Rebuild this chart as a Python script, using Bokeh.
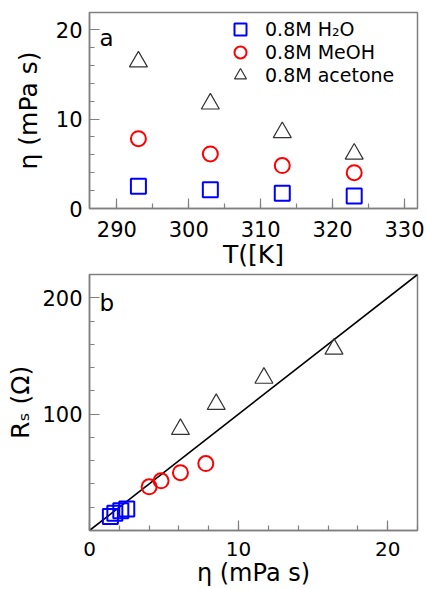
import math
from bokeh.plotting import figure
from bokeh.models import Range1d, SingleIntervalTicker, Label, Legend, LegendItem
from bokeh.layouts import column
from bokeh.embed import file_html
from bokeh.resources import INLINE

# ---- data ----
temperature_K = [293, 303, 313, 323]
eta_h2o = [2.5, 2.1, 1.7, 1.4]          # mPa s
eta_meoh = [7.8, 6.1, 4.8, 4.0]
eta_acetone = [16.4, 11.7, 8.5, 6.1]

rs_h2o = [18.4, 17.0, 14.8, 12.0]       # Ohm, vs eta of same series
rs_meoh = [57.5, 49.7, 42.7, 37.5]
rs_acetone = [156.0, 131.0, 108.5, 87.0]

fit_eta = [0, 22]
fit_rs = [0, 220]

legend_labels = ["0.8M H\u2082O", "0.8M MeOH", "0.8M acetone"]

FONT = "DejaVu Sans"
GREY = "#808080"
BLUE = "#0000FF"
RED = "#FF0000"
TRI = "#333333"


def style(p, xint, xminor, yint, yminor):
    p.outline_line_color = GREY
    p.outline_line_width = 1.5
    p.xgrid.visible = False
    p.ygrid.visible = False
    p.background_fill_color = "white"
    p.border_fill_color = "white"
    p.xaxis[0].ticker = SingleIntervalTicker(interval=xint, num_minor_ticks=xminor)
    p.yaxis[0].ticker = SingleIntervalTicker(interval=yint, num_minor_ticks=yminor)
    for ax in (p.xaxis[0], p.yaxis[0]):
        ax.axis_line_color = GREY
        ax.axis_line_width = 1.5
        ax.major_tick_line_color = GREY
        ax.minor_tick_line_color = GREY
        ax.major_tick_line_width = 1.2
        ax.minor_tick_line_width = 1.2
        ax.major_tick_in = 10
        ax.major_tick_out = 0
        ax.minor_tick_in = 5
        ax.minor_tick_out = 0
        ax.major_label_text_font = FONT
        ax.major_label_text_font_size = "21px"
        ax.major_label_text_color = "black"
        ax.axis_label_text_font = FONT
        ax.axis_label_text_font_size = "25px"
        ax.axis_label_text_font_style = "normal"
        ax.axis_label_text_color = "black"
        ax.axis_label_standoff = 0
    p.xaxis[0].major_label_standoff = 12
    p.yaxis[0].major_label_standoff = 7


def panel_letter(p, text, y):
    p.add_layout(Label(x=10, y=y, x_units="screen", y_units="screen", text=text,
                       text_font=FONT, text_font_size="23px", text_color="black",
                       text_align="left", text_baseline="alphabetic"))


# ---------------- panel a ----------------
pa = figure(width=427, height=271, output_backend="svg", toolbar_location=None,
            x_range=Range1d(286.2, 331.8), y_range=Range1d(0, 21.9),
            min_border_left=89, min_border_right=10, min_border_top=12,
            min_border_bottom=63)
style(pa, 10, 2, 10, 5)
pa.xaxis[0].axis_label = "T([K]"
pa.yaxis[0].axis_label = "\u03b7 (mPa s)"
pa.yaxis[0].axis_label_standoff = 10

ra1 = pa.scatter(temperature_K, eta_h2o, marker="square", size=15, fill_color=None,
                 line_color=BLUE, line_width=2)
ra2 = pa.scatter(temperature_K, eta_meoh, marker="circle", size=15, fill_color=None,
                 line_color=RED, line_width=2)
ra3 = pa.scatter(temperature_K, eta_acetone, marker="triangle", size=18, fill_color=None,
                 line_color=TRI, line_width=1.2)

for rend, text, ybot in zip([ra1, ra2, ra3], legend_labels, [164, 141, 118]):
    lg = Legend(items=[LegendItem(label=text, renderers=[rend])],
                location=(136, ybot), glyph_width=30, glyph_height=30, spacing=0,
                padding=0, margin=0, label_standoff=10, label_height=20,
                border_line_color=None, background_fill_alpha=0,
                label_text_font=FONT, label_text_font_size="19px",
                label_text_color="black")
    pa.add_layout(lg)

panel_letter(pa, "a", 171)

# ---------------- panel b ----------------
pb = figure(width=427, height=318, output_backend="svg", toolbar_location=None,
            x_range=Range1d(0, 22), y_range=Range1d(0, 220),
            min_border_left=89, min_border_right=10, min_border_top=3,
            min_border_bottom=53)
style(pb, 10, 5, 100, 5)
pb.yaxis[0].major_label_overrides = {0: ""}
pb.xaxis[0].major_label_text_font_size = "20px"
pb.xaxis[0].major_label_standoff = 11
pb.xaxis[0].axis_label_text_font_size = "24px"
pb.xaxis[0].axis_label = "\u03b7 (mPa s)"
pb.yaxis[0].axis_label = "R\u209b (\u03a9)"
pb.yaxis[0].axis_label_standoff = 4

pb.line(fit_eta, fit_rs, line_color="black", line_width=1.6)
pb.scatter(eta_h2o, rs_h2o, marker="square", size=15, fill_color=None,
           line_color=BLUE, line_width=2)
pb.scatter(eta_meoh, rs_meoh, marker="circle", size=15, fill_color=None,
           line_color=RED, line_width=2)
pb.scatter(eta_acetone, rs_acetone, marker="triangle", size=18, fill_color=None,
           line_color=TRI, line_width=1.2)

panel_letter(pb, "b", 228)

layout = column(pa, pb, spacing=0)
open("out.html", "w").write(file_html(layout, INLINE))
